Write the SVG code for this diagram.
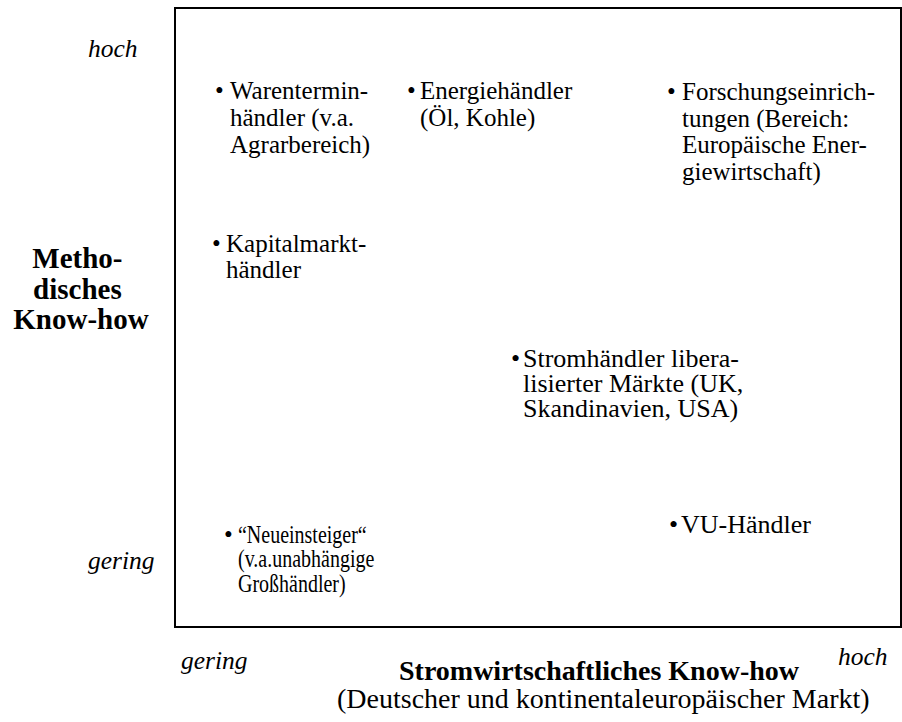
<svg xmlns="http://www.w3.org/2000/svg" width="902" height="722" viewBox="0 0 902 722">
  <style>
    text { font-family: "Liberation Serif", "Times New Roman", serif; fill: #000; }
    .item { font-size: 25px; }
    .item-l { font-size: 26px; }
    .axis { font-size: 25.5px; font-style: italic; }
    .title { font-size: 28px; font-weight: bold; }
    .sub { font-size: 28px; }
    .frame { fill: none; stroke: #000; stroke-width: 2; }
  </style>

  <!-- Portfolio frame -->
  <rect class="frame" x="175" y="8" width="726" height="619"/>

  <!-- Vertical axis -->
  <g id="y-axis">
    <text class="axis" x="88" y="57">hoch</text>
    <text class="axis" x="88" y="569">gering</text>
    <text class="title" text-anchor="middle" style="font-size:29px">
      <tspan x="81" y="268">Metho-</tspan>
      <tspan x="81" y="299">disches</tspan>
      <tspan x="81" y="329">Know-how</tspan>
    </text>
  </g>

  <!-- Horizontal axis -->
  <g id="x-axis">
    <text class="axis" x="181" y="669">gering</text>
    <text class="axis" x="838" y="665">hoch</text>
    <text class="title" x="399" y="680">Stromwirtschaftliches Know-how</text>
    <text class="sub" x="337" y="708">(Deutscher und kontinentaleuropäischer Markt)</text>
  </g>

  <!-- Market participants -->
  <g id="warentermin">
    <text class="item" x="215" y="99">•</text>
    <text class="item"><tspan x="230" y="99">Warentermin-</tspan><tspan x="230" y="126">händler (v.a.</tspan><tspan x="230" y="152.5">Agrarbereich)</tspan></text>
  </g>
  <g id="energie">
    <text class="item" x="407" y="99">•</text>
    <text class="item"><tspan x="420" y="99">Energiehändler</tspan><tspan x="420" y="125.5">(Öl, Kohle)</tspan></text>
  </g>
  <g id="forschung">
    <text class="item" x="667" y="100">•</text>
    <text class="item"><tspan x="682" y="100">Forschungseinrich-</tspan><tspan x="682" y="126.7">tungen (Bereich:</tspan><tspan x="682" y="153.3">Europäische Ener-</tspan><tspan x="682" y="180">giewirtschaft)</tspan></text>
  </g>
  <g id="kapitalmarkt">
    <text class="item" x="212" y="252">•</text>
    <text class="item"><tspan x="226" y="252">Kapitalmarkt-</tspan><tspan x="226" y="278">händler</tspan></text>
  </g>
  <g id="stromhaendler">
    <text class="item-l" x="511" y="367">•</text>
    <text class="item-l"><tspan x="523" y="367">Stromhändler libera-</tspan><tspan x="523" y="392">lisierter Märkte (UK,</tspan><tspan x="523" y="417">Skandinavien, USA)</tspan></text>
  </g>
  <g id="vu">
    <text class="item-l" x="669" y="533">•</text>
    <text class="item-l" x="681" y="533">VU-Händler</text>
  </g>
  <g id="neueinsteiger">
    <text class="item" x="224" y="543">•</text>
    <text class="item" transform="translate(238 0) scale(0.8 1)"><tspan x="0" y="543">“Neueinsteiger“</tspan><tspan x="0" y="567.5">(v.a.unabhängige</tspan><tspan x="0" y="592">Großhändler)</tspan></text>
  </g>
</svg>
